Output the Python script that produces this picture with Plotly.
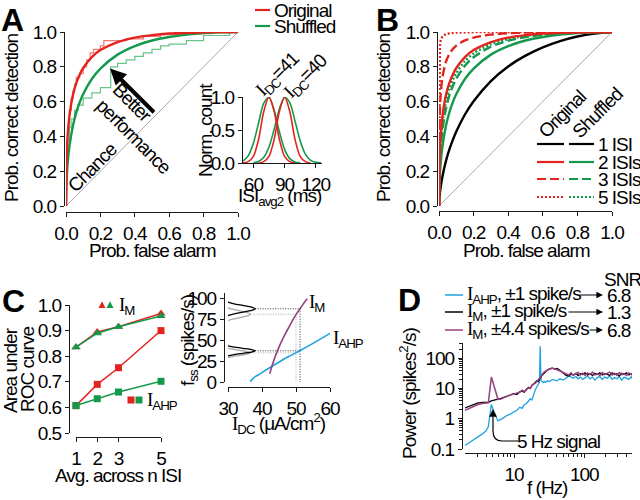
import plotly.graph_objects as go

W, H = 640, 500
FONT = "Liberation Sans, Arial, sans-serif"
BOLD = "Liberation Sans, Arial, sans-serif"
FS = 19
LS = "-1.0px"
RED = "#e3241e"
GREEN = "#13994b"
RED_L = "#f07a7a"
GREEN_L = "#66c487"
BLUE = "#1ea3e0"
PURPLE = "#97407f"
GRAY = "#a8a8a8"
AXC = "#1a1a1a"

# ---------------- Panel A data ----------------
A_FA = [0, 0.005, 0.01, 0.02, 0.04, 0.06, 0.08, 0.1, 0.15, 0.2, 0.3, 0.4, 0.5, 0.6, 0.7, 0.8, 0.9, 1.0]
A_ORIG = [0, 0.317, 0.411, 0.518, 0.636, 0.707, 0.756, 0.793, 0.856, 0.896, 0.942, 0.968, 0.982, 0.991, 0.996, 0.998, 1.0, 1.0]
A_SHUF = [0, 0.177, 0.25, 0.343, 0.46, 0.538, 0.597, 0.644, 0.73, 0.79, 0.87, 0.919, 0.951, 0.971, 0.985, 0.994, 0.998, 1.0]
A_ORIG_STEP_FA = [0, 0.005, 0.01, 0.02, 0.03, 0.04, 0.05, 0.06, 0.08, 0.1, 0.12, 0.14, 0.16, 0.2, 0.22, 0.35, 0.45, 0.55, 0.7, 0.85, 1.0]
A_ORIG_STEP_PD = [0, 0.2, 0.35, 0.45, 0.55, 0.62, 0.66, 0.70, 0.74, 0.76, 0.80, 0.84, 0.88, 0.90, 0.92, 0.95, 0.96, 0.975, 0.985, 0.99, 1.0]
A_SHUF_STEP_FA = [0, 0.005, 0.01, 0.02, 0.03, 0.05, 0.07, 0.1, 0.15, 0.2, 0.26, 0.3, 0.35, 0.4, 0.45, 0.5, 0.55, 0.6, 0.7, 0.8, 0.95, 1.0]
A_SHUF_STEP_PD = [0, 0.15, 0.3, 0.38, 0.45, 0.5, 0.55, 0.58, 0.62, 0.65, 0.68, 0.80, 0.82, 0.84, 0.86, 0.88, 0.9, 0.92, 0.93, 0.95, 0.98, 1.0]
DIAG = [0, 1]
ARROW_TAIL = (0.52, 0.53)
ARROW_TIP = (0.256, 0.79)
ROC_TICKS = [0, 0.2, 0.4, 0.6, 0.8, 1.0]
ROC_LABELS = ["0.0", "0.2", "0.4", "0.6", "0.8", "1.0"]

# inset histograms (ISI avg2, ms)
INS_X1 = [50, 55, 60, 65, 70, 75, 80, 85, 90, 95, 100]
INS_RED1 = [0.0, 0.02, 0.10, 0.36, 0.78, 1.0, 0.78, 0.36, 0.10, 0.02, 0.0]
INS_X2 = [65, 70, 75, 80, 85, 90, 95, 100, 105, 110, 115]
INS_RED2 = [0.0, 0.02, 0.10, 0.36, 0.78, 1.0, 0.78, 0.36, 0.10, 0.02, 0.0]
INS_XG1 = [50, 55, 60, 65, 70, 75, 80, 85, 90, 95, 100, 105]
INS_GREEN1 = [0.029, 0.108, 0.298, 0.607, 0.906, 0.994, 0.80, 0.474, 0.206, 0.066, 0.015, 0.003]
INS_XG2 = [60, 65, 70, 75, 80, 85, 90, 95, 100, 105, 110, 115, 120, 125]
INS_GREEN2 = [0.005, 0.024, 0.087, 0.242, 0.512, 0.819, 0.994, 0.915, 0.638, 0.338, 0.135, 0.041, 0.01, 0.002]
INS_XT = [60, 90, 120]
INS_YT = [0, 0.5, 1.0]
INS_YL = ["0.0", "0.5", "1.0"]

# ---------------- Panel B data ----------------
B_FA = [0, 0.002, 0.005, 0.01, 0.02, 0.04, 0.06, 0.08, 0.1, 0.15, 0.2, 0.3, 0.4, 0.5, 0.6, 0.7, 0.8, 0.9, 1.0]
B_1ISI = [0, 0.038, 0.070, 0.110, 0.170, 0.258, 0.325, 0.380, 0.428, 0.526, 0.602, 0.718, 0.802, 0.864, 0.912, 0.948, 0.974, 0.991, 1.0]
B_ORIG_2 = [0, 0.218, 0.317, 0.411, 0.518, 0.636, 0.707, 0.756, 0.793, 0.856, 0.896, 0.942, 0.968, 0.982, 0.991, 0.996, 0.998, 1.0, 1.0]
B_SHUF_2 = [0, 0.110, 0.177, 0.250, 0.343, 0.460, 0.538, 0.597, 0.644, 0.730, 0.790, 0.870, 0.919, 0.951, 0.971, 0.985, 0.994, 0.998, 1.0]
B_ORIG_3 = [0, 0.429, 0.549, 0.646, 0.741, 0.829, 0.874, 0.902, 0.922, 0.952, 0.968, 0.985, 0.993, 0.997, 0.998, 0.999, 1.0, 1.0, 1.0]
B_SHUF_3 = [0, 0.164, 0.250, 0.335, 0.439, 0.559, 0.635, 0.690, 0.732, 0.806, 0.855, 0.916, 0.950, 0.971, 0.984, 0.992, 0.997, 0.999, 1.0]
B_ORIG_5 = [0, 0.869, 0.923, 0.953, 0.974, 0.988, 0.993, 0.995, 0.997, 0.999, 0.999, 1.0, 1.0, 1.0, 1.0, 1.0, 1.0, 1.0, 1.0]
B_SHUF_5 = [0, 0.190, 0.282, 0.372, 0.478, 0.598, 0.672, 0.724, 0.764, 0.832, 0.877, 0.930, 0.960, 0.977, 0.988, 0.994, 0.998, 1.0, 1.0]
B_LEGEND_LABELS = ["1 ISI", "2 ISIs", "3 ISIs", "5 ISIs"]

# ---------------- Panel C data ----------------
C_N = [1, 2, 3, 5]
C_IM_ORIG = [0.835, 0.895, 0.915, 0.967]
C_IM_SHUF = [0.835, 0.89, 0.915, 0.957]
C_IAHP_ORIG = [0.607, 0.69, 0.755, 0.90]
C_IAHP_SHUF = [0.607, 0.634, 0.66, 0.702]
C_YT = [0.5, 0.6, 0.7, 0.8, 0.9, 1.0]
C_YL = ["0.5", "0.6", "0.7", "0.8", "0.9", "1.0"]

CR_IAHP_I = [36.5, 37.2, 38.2, 39.5, 41, 43, 46, 48.5, 51.5, 55, 60]
CR_IAHP_F = [0.5, 3.5, 7, 10, 14, 19, 26.5, 32, 38.5, 46.5, 58.5]
CR_IM_I = [42.3, 43, 44, 45, 46, 47, 48, 49, 50, 51, 52, 53.3]
CR_IM_F = [10, 20, 32, 42, 51, 59, 66.5, 74, 81, 87, 93, 100]
CR_XT = [30, 40, 50, 60]
CR_YT = [0, 25, 50, 75, 100]
# rate histograms drawn along the rate axis (x = I_DC units of the plot)
H_UP_BLACK_F = [74, 76, 78, 80, 82, 84, 86, 88, 90, 92, 94, 96, 98, 100, 102]
H_UP_BLACK_X = [28.82, 28.9, 29.2, 30.05, 31.79, 34.38, 36.92, 38.0, 36.92, 34.38, 31.79, 30.05, 29.2, 28.9, 28.82]
H_UP_GRAY_F = [67.5, 69.5, 71.5, 73.5, 75.5, 77.5, 79.5, 81.5, 83.5, 85.5, 87.5, 89.5, 91.5, 93.5, 95.5]
H_UP_GRAY_X = [28.82, 28.89, 29.14, 29.86, 31.33, 33.53, 35.68, 36.6, 35.68, 33.53, 31.33, 29.86, 29.14, 28.89, 28.82]
H_LO_BLACK_F = [28.5, 30, 31.5, 33, 34.5, 36, 37.5, 39, 40.5, 42, 43.5, 45, 46.5]
H_LO_BLACK_X = [28.9, 29.2, 30.05, 31.79, 34.38, 36.92, 38.0, 36.92, 34.38, 31.79, 30.05, 29.2, 28.9]
H_LO_GRAY_F = [26, 27.5, 29, 30.5, 32, 33.5, 35, 36.5, 38, 39.5, 41, 42.5, 44]
H_LO_GRAY_X = [28.88, 29.13, 29.83, 31.27, 33.41, 35.51, 36.4, 35.51, 33.41, 31.27, 29.83, 29.13, 28.88]
# operating points: (I_DC, rate_IM, rate_IAHP, hist peak x)
OP_BLACK = (51.2, 88, 37.5, 38.0)
OP_GRAY = (50.0, 81.5, 35, 36.6)

# ---------------- Panel D data ----------------
D_F = [2.0, 2.5, 3.0, 3.5, 4.0, 4.3, 4.75, 5.2, 5.9, 6.5, 7, 8, 9, 10, 11, 12, 13, 14, 15, 16,
       17, 18, 19, 20, 21, 22, 23, 23.6, 24.2, 25, 26, 27, 28, 30, 32, 35, 38, 41, 45, 50,
       55, 60, 65, 70, 76, 82, 88, 95, 103, 112, 121, 131, 142, 154, 167, 181, 196, 212, 230, 250,
       270, 292, 316, 342, 370, 400, 433, 470, 480]
D_IAHP = [0.13, 0.18, 0.24, 0.31, 0.40, 0.55, 3.0, 1.6, 0.85, 0.95, 1.05, 1.3, 1.45, 1.7, 1.9, 2.4, 2.2, 2.9, 3.2, 3.8,
          4.6, 4.2, 7.0, 9.0, 11, 14, 16, 250, 19, 17, 16, 17, 16, 18, 17, 20, 19, 18, 21, 19,
          22, 26, 24, 22, 25, 21, 24, 20, 23, 26, 21, 24, 19, 23, 25, 20, 24, 22, 26, 20,
          23, 21, 25, 19, 24, 22, 20, 25, 21]
D_IM_1 = [2.3, 2.8, 3.3, 3.5, 3.4, 3.5, 3.9, 4.2, 4.5, 4.7, 5.0, 5.6, 6.0, 6.8, 6.4, 7.8, 8.2, 7.6, 9.5, 10.5,
          10, 13, 14, 16, 18, 17, 21, 22, 24, 27, 30, 33, 37, 42, 45, 47, 44, 46, 40, 33,
          27, 26, 30, 28, 32, 27, 31, 29, 33, 28, 31, 27, 32, 29, 33, 28, 31, 30, 27, 33,
          29, 31, 26, 32, 29, 33, 28, 31, 30]
D_IM_44 = [1.9, 2.4, 2.9, 3.2, 3.3, 3.4, 24, 12, 4.4, 4.5, 4.9, 5.4, 6.3, 6.5, 7.2, 7.4, 8.8, 8.0, 9.0, 11,
           10.2, 12.5, 14.5, 15, 17, 19, 20, 23, 25, 29, 32, 36, 38, 40, 44, 48, 46, 42, 38, 34,
           30, 28, 33, 27, 31, 34, 28, 32, 27, 33, 29, 35, 28, 31, 27, 34, 29, 32, 35, 28,
           32, 27, 34, 29, 31, 27, 33, 29, 32]
D_XT = [10, 100]
D_XMINOR = [3, 4, 5, 6, 7, 8, 9, 20, 30, 40, 50, 60, 70, 80, 90, 200, 300, 400]
D_YT = [0.1, 1, 10, 100]
D_YL = ["0.1", "1", "10", "100"]
D_YMINOR = [0.2, 0.3, 0.4, 0.5, 0.6, 0.7, 0.8, 0.9, 2, 3, 4, 5, 6, 7, 8, 9, 20, 30, 40, 50, 60, 70, 80, 90, 200, 300]
D_LEGEND = [("AHP", ", \u00b11 spike/s"), ("M", ", \u00b11 spike/s"), ("M", ", \u00b14.4 spikes/s")]
D_SNR = ["6.8", "1.3", "6.8"]


def px(x):
    return x / W


def py(y):
    return 1 - y / H


def N(s, ls=LS):
    return '<span style="letter-spacing:%s">%s</span>' % (ls, s)


SI = '<span style="font-family:Liberation Serif, Times New Roman, serif">I</span>'

fig = go.Figure()


def trace(x, y, ax, color, width=2.0, dash="solid", shape="linear", mode="lines", marker=None):
    fig.add_trace(go.Scatter(
        x=x, y=y, xaxis="x" + ax, yaxis="y" + ax, mode=mode,
        line=dict(color=color, width=width, dash=dash, shape=shape, smoothing=0.8 if shape == "spline" else None),
        marker=marker, showlegend=False, hoverinfo="skip", cliponaxis=False))


# Panel A
trace(DIAG, DIAG, "", GRAY, 1.0)
trace(A_ORIG_STEP_FA, A_ORIG_STEP_PD, "", RED_L, 1.2, shape="vh")
trace(A_SHUF_STEP_FA, A_SHUF_STEP_PD, "", GREEN_L, 1.2, shape="vh")
trace(A_FA, A_SHUF, "", GREEN, 2.4, shape="spline")
trace(A_FA, A_ORIG, "", RED, 2.4, shape="spline")
# inset
trace(INS_XG1, INS_GREEN1, "2", GREEN, 1.6, shape="spline")
trace(INS_XG2, INS_GREEN2, "2", GREEN, 1.6, shape="spline")
trace(INS_X1, INS_RED1, "2", RED, 1.6, shape="spline")
trace(INS_X2, INS_RED2, "2", RED, 1.6, shape="spline")

# Panel B
trace(DIAG, DIAG, "3", GRAY, 1.0)
trace(B_FA, B_1ISI, "3", "black", 2.4, shape="spline")
trace(B_FA, B_SHUF_2, "3", GREEN, 2.4, shape="spline")
trace(B_FA, B_SHUF_3, "3", GREEN, 2.4, dash="9px,4px", shape="spline")
trace(B_FA, B_SHUF_5, "3", GREEN, 2.4, dash="2px,2px", shape="spline")
trace(B_FA, B_ORIG_2, "3", RED, 2.4, shape="spline")
trace(B_FA, B_ORIG_3, "3", RED, 2.4, dash="9px,4px", shape="spline")
trace(B_FA, B_ORIG_5, "3", RED, 2.4, dash="2px,2px")

# Panel C left
trace(C_N, C_IM_ORIG, "4", RED, 1.5, mode="lines+markers", marker=dict(symbol="triangle-up", size=8, color=RED))
trace(C_N, C_IAHP_ORIG, "4", RED, 1.5, mode="lines+markers", marker=dict(symbol="square", size=7, color=RED))
trace(C_N, C_IM_SHUF, "4", GREEN, 1.5, mode="lines+markers", marker=dict(symbol="triangle-up", size=8, color=GREEN))
trace(C_N, C_IAHP_SHUF, "4", GREEN, 1.5, mode="lines+markers", marker=dict(symbol="square", size=7, color=GREEN))

# Panel C right
for op, col in ((OP_GRAY, GRAY), (OP_BLACK, "#333333")):
    i_dc, f_m, f_a, hx = op
    trace([hx, i_dc], [f_m, f_m], "5", col, 1.0, dash="1px,1.5px")
    trace([hx, i_dc], [f_a, f_a], "5", col, 1.0, dash="1px,1.5px")
    trace([i_dc, i_dc], [f_m, 0], "5", col, 1.0, dash="1px,1.5px")
trace(H_UP_GRAY_X, H_UP_GRAY_F, "5", GRAY, 1.3, shape="spline")
trace(H_LO_GRAY_X, H_LO_GRAY_F, "5", GRAY, 1.3, shape="spline")
trace(H_UP_BLACK_X, H_UP_BLACK_F, "5", "black", 1.3, shape="spline")
trace(H_LO_BLACK_X, H_LO_BLACK_F, "5", "black", 1.3, shape="spline")
trace(CR_IAHP_I, CR_IAHP_F, "5", BLUE, 1.6, shape="spline")
trace(CR_IM_I, CR_IM_F, "5", PURPLE, 1.6, shape="spline")

# Panel D
trace(D_F, D_IAHP, "6", BLUE, 1.3)
trace(D_F, D_IM_1, "6", "black", 1.3)
trace(D_F, D_IM_44, "6", PURPLE, 1.5)


def axis(dom, rng, pos=None, anchor="free", vals=None, labels=None, **kw):
    d = dict(domain=dom, range=rng, showline=True, linecolor=AXC, linewidth=1.2, ticks="outside",
             ticklen=4, tickwidth=1.2, tickcolor=AXC, showgrid=False, zeroline=False, automargin=False,
             tickfont=dict(family=FONT, size=FS, color="black"), fixedrange=True,
             tickmode="array", tickvals=vals,
             ticktext=[N(t) for t in (labels if labels is not None else [str(v) for v in vals])])
    if anchor == "free":
        d.update(anchor="free", position=pos)
    else:
        d.update(anchor=anchor)
    d.update(kw)
    return d


layout = dict(
    width=W, height=H, margin=dict(l=0, r=0, t=0, b=0, pad=0, autoexpand=False),
    paper_bgcolor="white", plot_bgcolor="rgba(0,0,0,0)", showlegend=False,
    xaxis=axis([px(66), px(238)], [0, 1], py(212), vals=ROC_TICKS, labels=ROC_LABELS),
    yaxis=axis([py(206), py(32)], [0, 1], px(64), vals=ROC_TICKS, labels=ROC_LABELS),
    xaxis2=axis([px(243), px(322)], [50, 126], anchor="y2", vals=INS_XT),
    yaxis2=axis([py(163), py(97)], [0, 1], anchor="x2", vals=INS_YT, labels=INS_YL),
    xaxis3=axis([px(439), px(612)], [0, 1], py(211), vals=ROC_TICKS, labels=ROC_LABELS),
    yaxis3=axis([py(206), py(32)], [0, 1], px(437), vals=ROC_TICKS, labels=ROC_LABELS),
    xaxis4=axis([px(76), px(161)], [1, 5], py(437), vals=C_N),
    yaxis4=axis([py(433), py(305)], [0.5, 1.0], px(69), vals=C_YT, labels=C_YL),
    xaxis5=axis([px(228), px(330)], [30, 60], py(387), vals=CR_XT),
    yaxis5=axis([py(382), py(293)], [0, 107], px(224), vals=CR_YT),
    xaxis6=axis([px(465), px(632)], [0.301, 2.681], py(453), type="log", vals=D_XT,
                minor=dict(ticks="outside", ticklen=3, tickcolor=AXC, tickvals=D_XMINOR)),
    yaxis6=axis([py(449), py(343)], [-1, 2.507], px(462), type="log", vals=D_YT, labels=D_YL,
                minor=dict(ticks="outside", ticklen=3, tickcolor=AXC, tickvals=D_YMINOR)),
)

ann = []


def txt(x, y, s, size=FS, angle=0, xa="center", color="black", family=FONT, ls=LS):
    ann.append(dict(x=px(x), y=py(y), xref="paper", yref="paper", text=N(s, ls) if ls else s, showarrow=False,
                    textangle=angle, xanchor=xa, yanchor="middle",
                    font=dict(size=size, color=color, family=family)))


# panel letters
for L, (x, y) in zip("ABCD", [(12, 20), (387, 20), (13, 301), (409, 300)]):
    txt(x, y, "<b>" + L + "</b>", size=32, family=BOLD, ls=None)

# A
txt(11, 118, "Prob. correct detection", angle=-90)
txt(152, 250, "Prob. false alarm")
txt(272, 10, "Original", xa="left")
txt(272, 26, "Shuffled", xa="left")
txt(205, 130, "Norm. count", angle=-90)
txt(280, 197, "ISI<sub>avg2</sub> (ms)")
txt(278, 75, SI + "<sub>DC</sub>=41", angle=-45)
txt(306, 77, SI + "<sub>DC</sub>=40", angle=-45)
txt(132, 103, "Better", angle=45)
txt(134, 136, "performance", angle=45)
txt(92, 167, "Chance", angle=-45)
ann.append(dict(x=ARROW_TIP[0], y=ARROW_TIP[1], xref="x", yref="y", ax=ARROW_TAIL[0], ay=ARROW_TAIL[1],
                axref="x", ayref="y", text="", showarrow=True, arrowhead=2, arrowsize=0.8,
                arrowwidth=4, arrowcolor="black"))

# B
txt(383, 118, "Prob. correct detection", angle=-90)
txt(526, 250, "Prob. false alarm")
txt(562, 115, "Original", angle=-45)
txt(598, 113, "Shuffled", angle=-45)
LEG_Y = [144, 162, 179, 197]
for lab, y in zip(B_LEGEND_LABELS, LEG_Y):
    txt(596, y, lab, xa="left")

# C
txt(10, 370, "Area under", angle=-90)
txt(27, 370, "ROC curve", angle=-90)
txt(118, 475, "Avg. across n ISI")
txt(117, 306, SI + "<sub>M</sub>", xa="left")
txt(145, 401, SI + "<sub>AHP</sub>", xa="left")
txt(189, 340, "f<sub>ss</sub> (spikes/s)", angle=-90)
txt(279, 423, SI + "<sub>DC</sub> (\u03bcA/cm<sup>2</sup>)")
txt(307, 303, SI + "<sub>M</sub>", xa="left")
txt(331, 339, SI + "<sub>AHP</sub>", xa="left")

# D
txt(622, 279, "SNR")
D_ROWS = [295, 312, 330]
D_TAIL = [578, 567, 588]
for (sub, rest), snr, y, tail in zip(D_LEGEND, D_SNR, D_ROWS, D_TAIL):
    txt(465, y, SI + "<sub>" + sub + "</sub>" + rest, xa="left")
    txt(605, y, snr, xa="left")
    ann.append(dict(x=px(603), y=py(y), xref="paper", yref="paper", ax=tail - 603, ay=0, text="",
                    showarrow=True, arrowhead=2, arrowsize=1.2, arrowwidth=1.1, arrowcolor="black"))
txt(408, 393, "Power (spikes<sup>2</sup>/s)", angle=-90)
txt(547, 487, "f (Hz)")
txt(558, 441, "5 Hz signal")
ann.append(dict(x=px(493), y=py(409), xref="paper", yref="paper", ax=0, ay=9, text="",
                showarrow=True, arrowhead=2, arrowsize=1.3, arrowwidth=1.2, arrowcolor="black"))

shapes = []


def seg(x0, x1, y, color, width=2.2, dash="solid"):
    shapes.append(dict(type="line", xref="paper", yref="paper", x0=px(x0), x1=px(x1), y0=py(y), y1=py(y),
                       line=dict(color=color, width=width, dash=dash)))


seg(255, 270, 10, RED)
seg(255, 270, 26, GREEN)
B_ORIG_STYLE = [("black", "solid"), (RED, "solid"), (RED, "9px,4px"), (RED, "2px,2px")]
B_SHUF_STYLE = [("black", "solid"), (GREEN, "solid"), (GREEN, "9px,4px"), (GREEN, "2px,2px")]
for y, (c1, d1), (c2, d2) in zip(LEG_Y, B_ORIG_STYLE, B_SHUF_STYLE):
    seg(537, 564, y, c1, dash=d1)
    seg(569, 594, y, c2, dash=d2)
for y, c in zip(D_ROWS, [BLUE, "black", PURPLE]):
    seg(445, 463, y, c, width=1.5)


def tri(cx, cy, col, s=7):
    p = "M {} {} L {} {} L {} {} Z".format(px(cx - s / 2), py(cy + s / 2.3), px(cx + s / 2), py(cy + s / 2.3), px(cx), py(cy - s / 1.9))
    shapes.append(dict(type="path", xref="paper", yref="paper", path=p, fillcolor=col, line=dict(width=0)))


def sq(cx, cy, col, s=7):
    shapes.append(dict(type="rect", xref="paper", yref="paper", x0=px(cx - s / 2), x1=px(cx + s / 2),
                       y0=py(cy + s / 2), y1=py(cy - s / 2), fillcolor=col, line=dict(width=0)))


tri(102, 305, RED)
tri(110, 305, GREEN)
sq(131, 400, RED)
sq(139, 400, GREEN)

curve = "M {} {} L {} {} Q {} {} {} {} L {} {}".format(px(518), py(441), px(502), py(441), px(493), py(441), px(493), py(431), px(493), py(417))
shapes.append(dict(type="path", xref="paper", yref="paper", path=curve, line=dict(color="black", width=1.2)))

layout["annotations"] = ann
layout["shapes"] = shapes
fig.update_layout(**layout)
fig.write_html("out.html", config={"displayModeBar": False},
               post_script="document.body.style.margin='0';document.body.style.overflow='hidden';")
